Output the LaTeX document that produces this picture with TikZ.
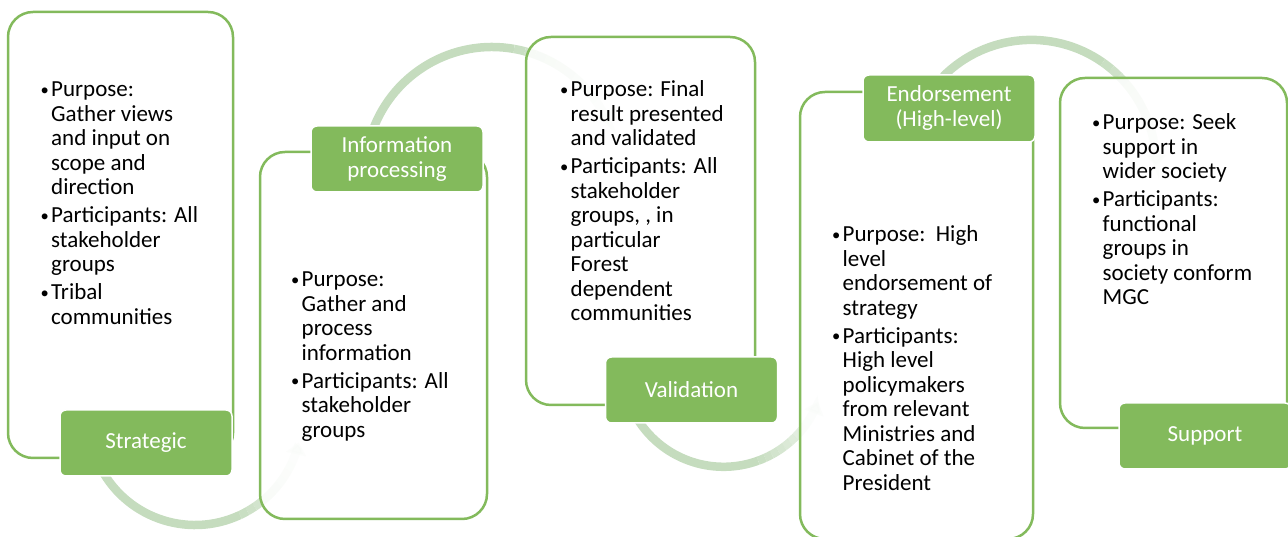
\documentclass[tikz,border=0pt]{standalone}
\usepackage{fontspec}
\usepackage{graphicx}
\setmainfont{Carlito}
\usetikzlibrary{arrows.meta}
\definecolor{stagegreen}{RGB}{131,186,92}
\definecolor{flowgreen}{RGB}{197,220,190}
\newcommand{\bul}{\makebox[10.5pt][l]{\raisebox{1.6pt}{\scalebox{0.72}{\textbullet}}}}
\newcommand{\ind}{\hspace*{10.5pt}}
\begin{document}
\begin{tikzpicture}[x=1pt, y=1pt,
    panel/.style={draw=stagegreen, line width=2.5pt, fill=white, fill opacity=0.85, rounded corners=25pt},
    tag/.style={draw=white, line width=1.5pt, fill=stagegreen, text=white, rounded corners=6pt,
      minimum width=172pt, minimum height=66pt, align=center, font=\fontsize{23}{25}\selectfont},
    points/.style={anchor=north west, inner sep=0pt, align=left, font=\fontsize{23}{24.5}\selectfont},
    flow/.style={draw=flowgreen, line width=8.5pt}]
  \useasboundingbox (0,0) rectangle (1288,537);

  % curved arrows between the stages
  \foreach \cx/\cy/\r/\sa/\fa/\ea in {195/118.5/106.5/205/295/340, 492/363/127/160/80/30,
      723.5/171.6/101.4/210/290/332, 1031.3/372.5/124.6/135/55/6}{
    \coordinate (hub) at (\cx,\cy);
    \draw[flow] ([shift={(\sa:\r)}]hub) arc[start angle=\sa, end angle=\fa, radius=\r];
    \foreach \k in {1,...,10}{
      \pgfmathsetmacro{\aa}{\fa+(\ea-\fa)*(\k-1)/10}
      \pgfmathsetmacro{\ab}{\fa+(\ea-\fa)*\k/10}
      \pgfmathsetmacro{\op}{1-0.075*\k}
      \draw[flow, draw opacity=\op] ([shift={(\aa:\r)}]hub) arc[start angle=\aa, end angle=\ab, radius=\r];
    }
    \pgfmathsetmacro{\tp}{\ea+7*sign(\ea-\fa)}
    \draw[flow, opacity=0.25, -{Triangle[width=20pt,length=12pt]}]
      ([shift={(\ea:\r)}]hub) arc[start angle=\ea, end angle=\tp, radius=\r];
  }

  % stage panels
  \node[panel, minimum width=225pt, minimum height=446pt] (strategicbox) at (120.5,302) {};
  \node[panel, minimum width=227pt, minimum height=367pt] (infobox) at (373.5,201.5) {};
  \node[panel, minimum width=229pt, minimum height=368pt] (validbox) at (640.5,316) {};
  \node[panel, minimum width=233pt, minimum height=447pt] (endorsebox) at (916.5,221.5) {};
  \node[panel, minimum width=227pt, minimum height=350pt] (supportbox) at (1173.5,284) {};

  % stage names
  \node[tag] (strategic) at (146,94) {Strategic};
  \node[tag] (information) at (397,378) {Information\\processing};
  \node[tag] (validation) at (691.5,147) {Validation};
  \node[tag, minimum height=67pt] (endorsement) at (949,428.5) {Endorsement\\(High-level)};
  \node[tag] (support) at (1205,101) {Support};

  % stage contents
  \node[points] (strategictext) at (40.5,457.5) {\strut\bul Purpose:\\
    \ind Gather views\\ \ind and input on\\ \ind scope and\\ \ind direction\\[3.5pt]
    \bul Participants: All\\ \ind stakeholder\\ \ind groups\\[3.5pt]
    \bul Tribal\\ \ind communities};
  \node[points] (infotext) at (291,267.5) {\strut\bul Purpose:\\
    \ind Gather and\\ \ind process\\ \ind information\\[3.5pt]
    \bul Participants: All\\ \ind stakeholder\\ \ind groups};
  \node[points] (validtext) at (560,457.5) {\strut\bul Purpose: Final\\
    \ind result presented\\ \ind and validated\\[3.5pt]
    \bul Participants: All\\ \ind stakeholder\\ \ind groups, , in\\ \ind particular\\
    \ind Forest\\ \ind dependent\\ \ind communities};
  \node[points] (endorsetext) at (832,312.5) {\strut\bul Purpose:\ \ High\\
    \ind level\\ \ind endorsement of\\ \ind strategy\\[3.5pt]
    \bul Participants:\\ \ind High level\\ \ind policymakers\\ \ind from relevant\\
    \ind Ministries and\\ \ind Cabinet of the\\ \ind President};
  \node[points] (supporttext) at (1092,424.5) {\strut\bul Purpose: Seek\\
    \ind support in\\ \ind wider society\\[3.5pt]
    \bul Participants:\\ \ind functional\\ \ind groups in\\ \ind society conform\\ \ind MGC};
\end{tikzpicture}
\end{document}
